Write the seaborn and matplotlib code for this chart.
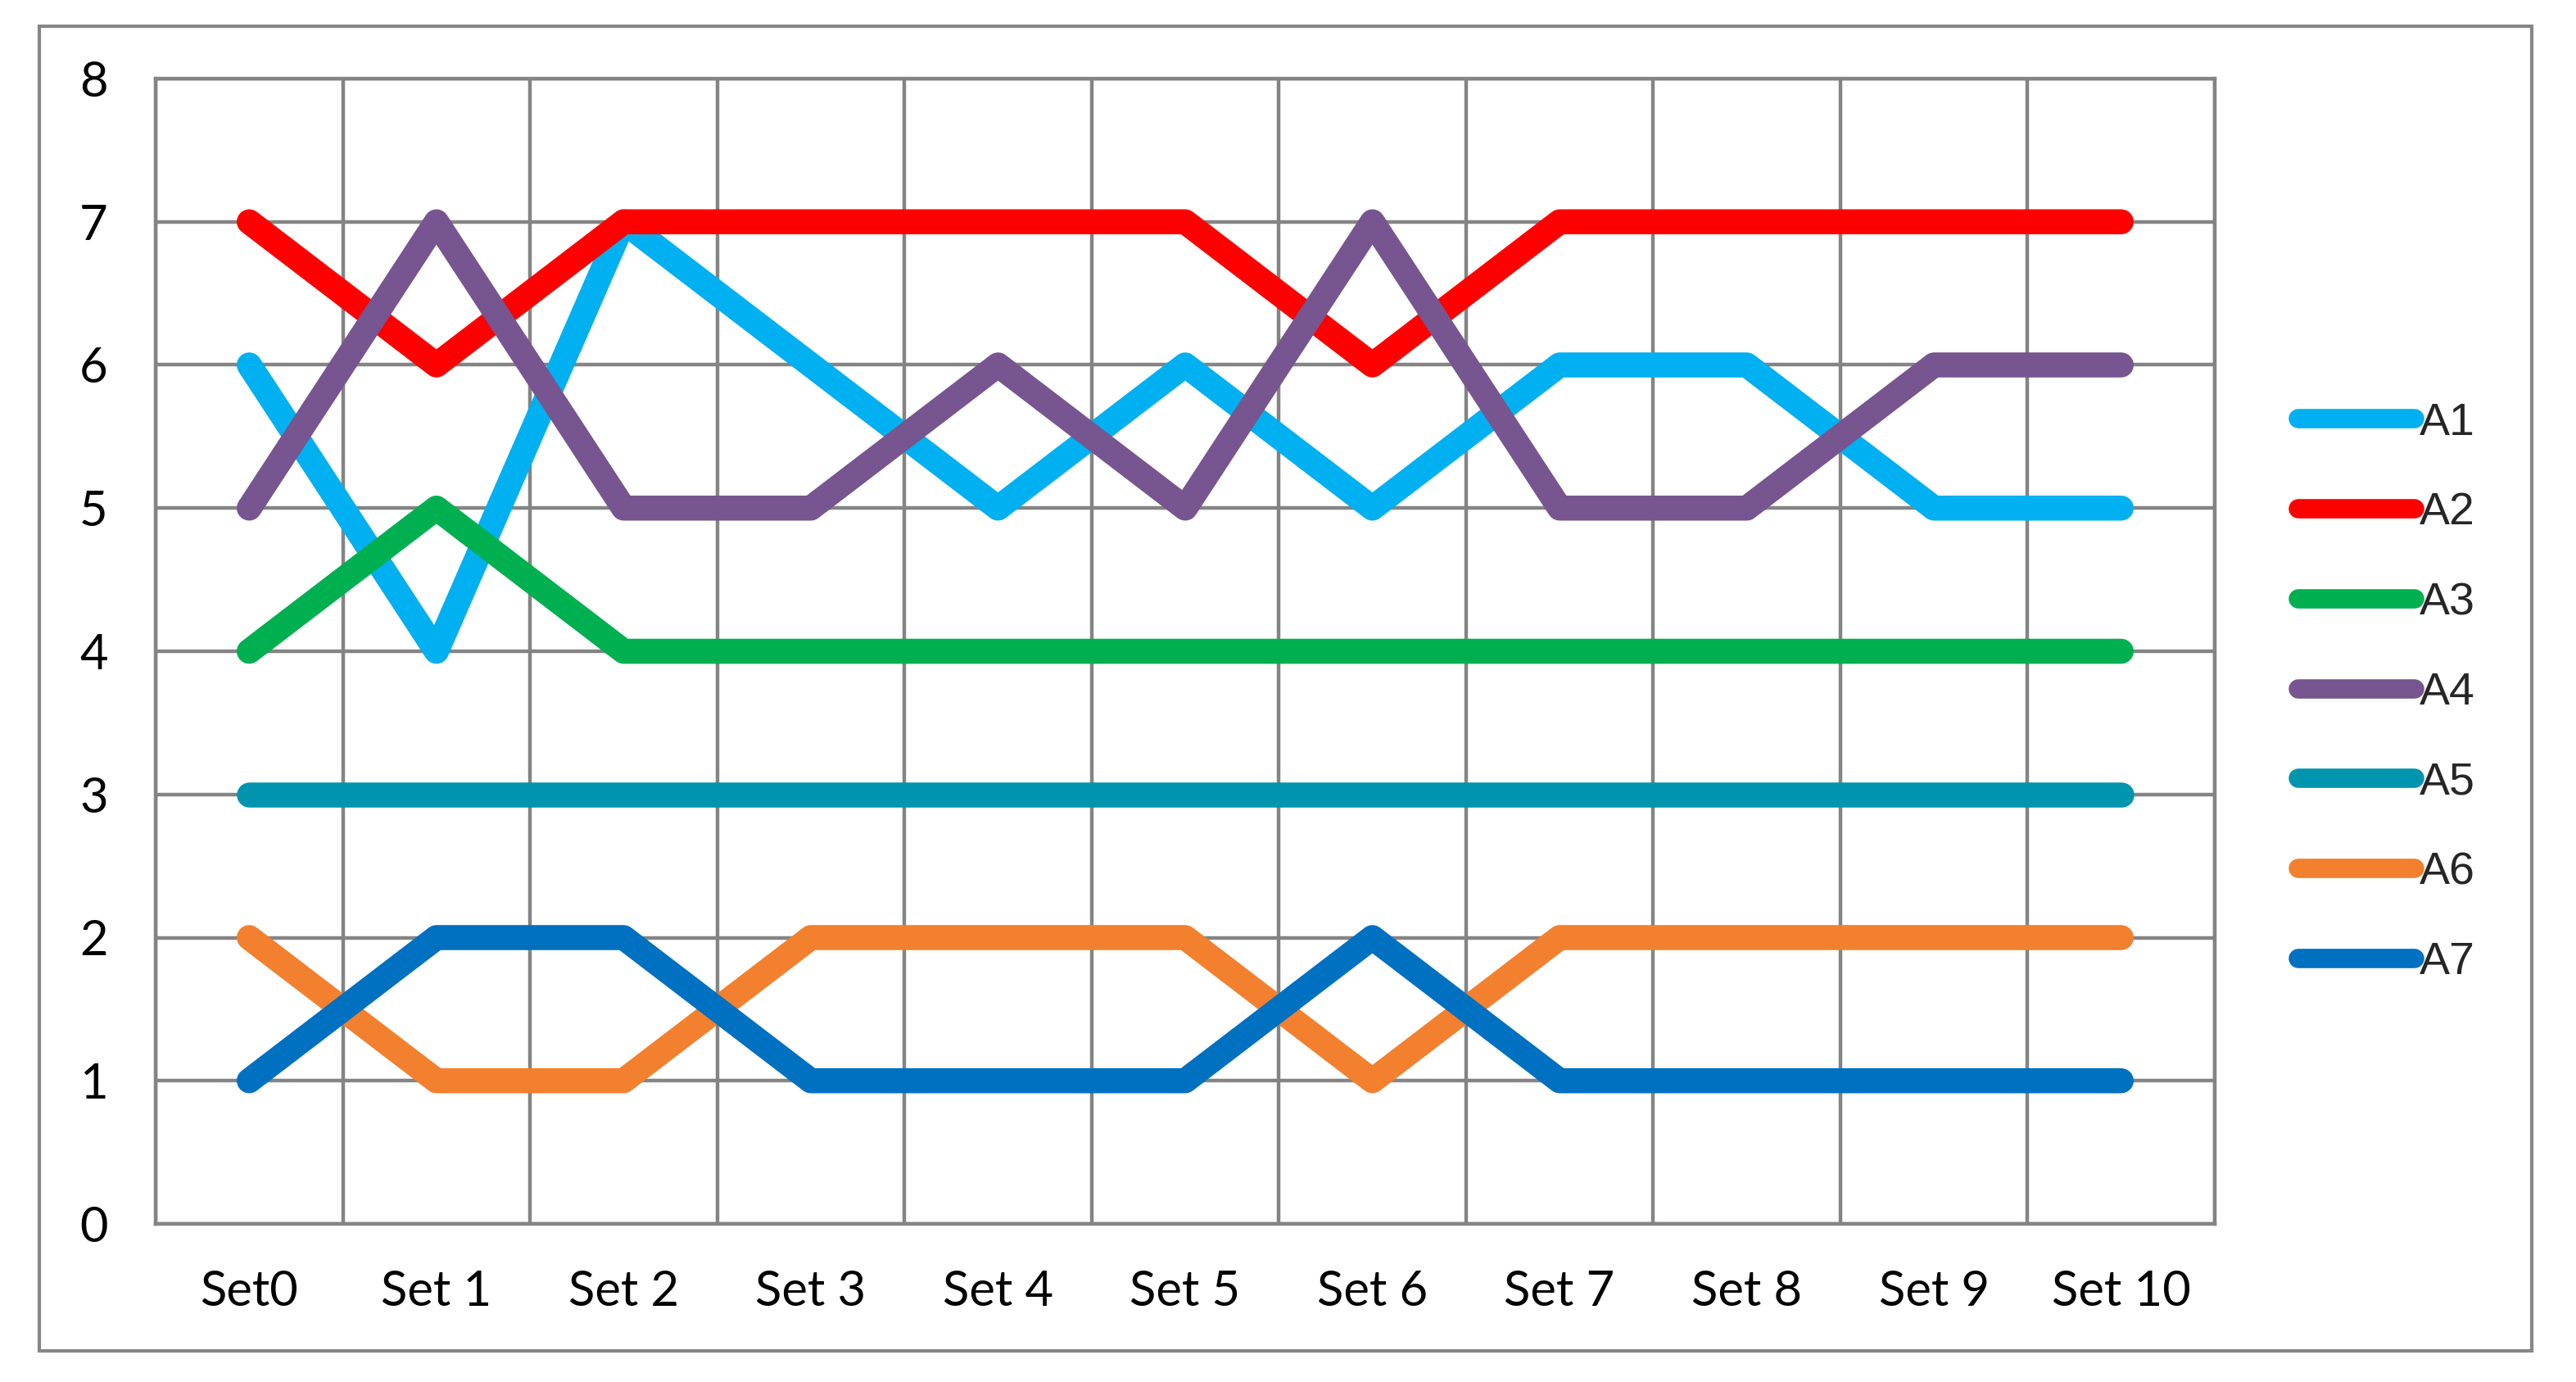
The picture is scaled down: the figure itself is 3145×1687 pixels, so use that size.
import numpy as np
import pandas as pd
import matplotlib
matplotlib.use("Agg")
import matplotlib.pyplot as plt
import matplotlib.patches as mpatches
from matplotlib.ticker import FixedLocator
import seaborn as sns

# ---- data ----
categories = ["Set0", "Set 1", "Set 2", "Set 3", "Set 4", "Set 5",
              "Set 6", "Set 7", "Set 8", "Set 9", "Set 10"]
A1 = [6, 4, 7, 6, 5, 6, 5, 6, 6, 5, 5]
A2 = [7, 6, 7, 7, 7, 7, 6, 7, 7, 7, 7]
A3 = [4, 5, 4, 4, 4, 4, 4, 4, 4, 4, 4]
A4 = [5, 7, 5, 5, 6, 5, 7, 5, 5, 6, 6]
A5 = [3, 3, 3, 3, 3, 3, 3, 3, 3, 3, 3]
A6 = [2, 1, 1, 2, 2, 2, 1, 2, 2, 2, 2]
A7 = [1, 2, 2, 1, 1, 1, 2, 1, 1, 1, 1]
series_names = ["A1", "A2", "A3", "A4", "A5", "A6", "A7"]
series_values = [A1, A2, A3, A4, A5, A6, A7]
y_ticks = [0, 1, 2, 3, 4, 5, 6, 7, 8]

colors = {"A1": "#00B0F0", "A2": "#FF0000", "A3": "#00B050", "A4": "#775590",
          "A5": "#0094AE", "A6": "#F2802E", "A7": "#0070C0"}

rows = []
for name, vals in zip(series_names, series_values):
    for i, v in enumerate(vals):
        rows.append({"idx": i, "value": v, "series": name})
df = pd.DataFrame(rows)

sns.set_theme(style="white")
plt.rcParams["font.family"] = ["Lato", "DejaVu Sans"]

W, H = 3145, 1687
fig = plt.figure(figsize=(W / 100, H / 100), dpi=100)
fig.patch.set_facecolor("white")
ax = fig.add_axes([190 / W, 1 - 1494 / H, (2704 - 190) / W, (1494 - 96) / H])

sns.lineplot(data=df, x="idx", y="value", hue="series", hue_order=series_names,
             palette=colors, linewidth=22, ax=ax, legend=True,
             solid_capstyle="round", solid_joinstyle="round")

handles, labels = ax.get_legend_handles_labels()
ax.get_legend().remove()

grid_c = "#848484"
ax.set_xlim(-0.5, len(categories) - 0.5)
ax.set_ylim(0, 8)
ax.set_xticks(range(len(categories)))
ax.set_xticklabels(categories)
ax.xaxis.set_minor_locator(FixedLocator(np.arange(-0.5, len(categories), 1.0)))
ax.set_yticks(y_ticks)
ax.set_yticklabels([str(t) for t in y_ticks])
ax.grid(False)
ax.grid(True, which="minor", axis="x", color=grid_c, linewidth=3.2)
ax.grid(True, which="major", axis="y", color=grid_c, linewidth=3.2)
ax.set_axisbelow(True)
ax.tick_params(axis="x", which="both", length=0, pad=40, labelsize=43, colors="black")
ax.tick_params(axis="y", which="major", length=12, width=3.2, color=grid_c,
               direction="out", pad=30, labelsize=43, colors="black")
for s in ax.spines.values():
    s.set_visible(True)
    s.set_color(grid_c)
    s.set_linewidth(3.2)
ax.set_xlabel("")
ax.set_ylabel("")

for h in handles:
    h.set_linewidth(17)
    h.set_solid_capstyle("round")
leg = fig.legend(handles, labels, loc="center left",
                 bbox_to_anchor=(2806 / W, 1 - 846 / H), frameon=False,
                 borderpad=0, borderaxespad=0, handlelength=2.55,
                 handletextpad=0.12, labelspacing=1.04,
                 prop={"family": "Liberation Sans", "size": 40})

border = mpatches.Rectangle((48 / W, 1 - 1649 / H), (3091 - 48) / W, (1649 - 32) / H,
                            transform=fig.transFigure, fill=False,
                            edgecolor="#868686", linewidth=3)
fig.add_artist(border)

fig.savefig("out.png", dpi=100, facecolor="white")
